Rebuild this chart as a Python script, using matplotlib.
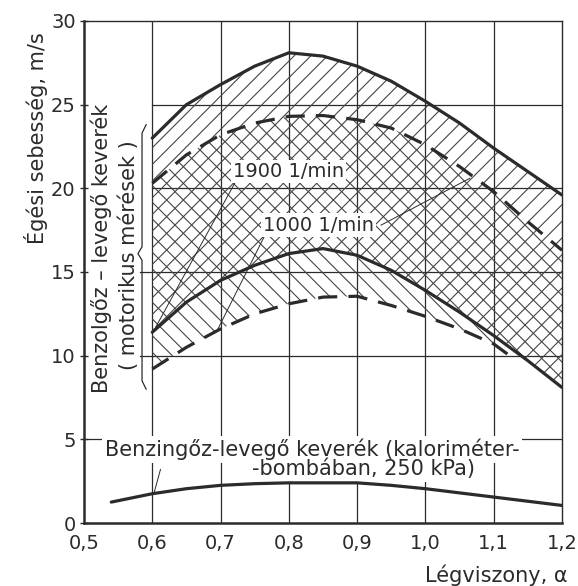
import matplotlib
matplotlib.use("Agg")
import matplotlib.pyplot as plt
import numpy as np

# DATA (x = air ratio alpha, y = burning speed m/s)
alpha = [0.60, 0.65, 0.70, 0.75, 0.80, 0.85, 0.90, 0.95, 1.00, 1.05, 1.10, 1.15, 1.20]
upper_1900 = [23.0, 25.0, 26.2, 27.3, 28.1, 27.9, 27.3, 26.4, 25.2, 23.9, 22.4, 21.0, 19.6]
lower_1900 = [11.4, 13.2, 14.5, 15.4, 16.1, 16.4, 16.0, 15.1, 13.9, 12.6, 11.2, 9.7, 8.1]
upper_1000 = [20.3, 22.0, 23.2, 23.9, 24.3, 24.35, 24.1, 23.6, 22.6, 21.3, 19.8, 18.0, 16.3]
alpha_1000_low = [0.60, 0.65, 0.70, 0.75, 0.80, 0.85, 0.90, 0.95, 1.00, 1.05, 1.10, 1.12]
lower_1000 = [9.2, 10.5, 11.6, 12.5, 13.1, 13.5, 13.55, 13.0, 12.35, 11.6, 10.7, 10.1]

alpha_bomb = [0.54, 0.60, 0.65, 0.70, 0.75, 0.80, 0.85, 0.90, 0.95, 1.00, 1.05, 1.10, 1.15, 1.20]
speed_bomb = [1.25, 1.75, 2.05, 2.25, 2.35, 2.4, 2.4, 2.4, 2.25, 2.05, 1.8, 1.55, 1.3, 1.05]

xticks = [0.5, 0.6, 0.7, 0.8, 0.9, 1.0, 1.1, 1.2]
yticks = [0, 5, 10, 15, 20, 25, 30]

bomb_lines = [(0.531, 4.4, "Benzingőz-levegő keverék (kaloriméter-"),
              (0.746, 3.25, "-bombában, 250 kPa)")]

INK = "#2b2b2b"
plt.rcParams["hatch.linewidth"] = 0.8
plt.rcParams["font.family"] = "DejaVu Sans"

fig = plt.figure(figsize=(5.78, 5.86), dpi=100)
ax = fig.add_axes([0.1453, 0.1075, 0.827, 0.8567])
ax.set_xlim(0.5, 1.2)
ax.set_ylim(0, 30)

# grid, broken where the side label sits
for y in [5, 10, 15, 20, 25]:
    x0 = 0.5 if y == 5 else (0.582 if y < 20 else 0.6)
    ax.plot([x0, 1.2], [y, y], color=INK, lw=0.9, zorder=1)
for x in [0.6, 0.7, 0.8, 0.9, 1.0, 1.1]:
    ax.axvline(x, color=INK, lw=0.9, zorder=1)

# hatched bands
a = np.array(alpha)
ax.fill_between(a, lower_1900, upper_1900, facecolor="none", edgecolor="#444444",
                hatch="//", linewidth=0, zorder=2)
a_low = np.array(alpha_1000_low + [1.15, 1.2])
low_1000 = np.array(lower_1000 + [lower_1900[-2], lower_1900[-1]])
up_1000 = np.interp(a_low, a, upper_1000)
ax.fill_between(a_low, low_1000, up_1000, facecolor="none", edgecolor="#444444",
                hatch="\\\\", linewidth=0, zorder=2)

# curves
ax.plot(alpha, upper_1900, color=INK, lw=2.3, zorder=4, solid_capstyle="round")
ax.plot(alpha, lower_1900, color=INK, lw=2.3, zorder=4, solid_capstyle="round")
ax.plot(alpha, upper_1000, color=INK, lw=2.3, ls=(0, (6, 3.5)), zorder=4)
ax.plot(alpha_1000_low, lower_1000, color=INK, lw=2.3, ls=(0, (6, 3.5)), zorder=4)
ax.plot(alpha_bomb, speed_bomb, color=INK, lw=2.3, zorder=4, solid_capstyle="round")

# labels inside plot
box = dict(facecolor="white", edgecolor="none", pad=1.5)
ax.text(0.718, 21.0, "1900 1/min", fontsize=14, color=INK, va="center", bbox=box, zorder=6)
ax.text(0.762, 17.8, "1000 1/min", fontsize=14, color=INK, va="center", bbox=box, zorder=6)
ax.plot([0.722, 0.605], [20.4, 11.7], color=INK, lw=0.7, zorder=5)
ax.plot([0.765, 0.695], [17.2, 11.5], color=INK, lw=0.7, zorder=5)
ax.plot([0.935, 1.065], [17.8, 20.6], color=INK, lw=0.7, zorder=5)

# bomb-calorimeter caption: white backing under the grid-free area, text on top
for x, y, s in bomb_lines:
    ax.text(x, y, s, fontsize=15, color="white", va="center",
            bbox=dict(facecolor="white", edgecolor="none", pad=2), zorder=3)
    ax.text(x, y, s, fontsize=15, color=INK, va="center", zorder=6)
ax.plot([0.612, 0.603], [3.2, 1.85], color=INK, lw=0.7, zorder=5)

# side label with brace
ax.text(0.526, 16.4, "Benzolgőz – levegő keverék", rotation=90, fontsize=15, color=INK,
        ha="center", va="center", zorder=6)
ax.text(0.565, 16.0, "( motorikus mérések )", rotation=90, fontsize=15, color=INK,
        ha="center", va="center", zorder=6)
brace_x = [0.591, 0.585, 0.585, 0.579, 0.585, 0.585, 0.591]
brace_y = [23.8, 23.3, 16.5, 16.1, 15.7, 8.5, 8.0]
ax.plot(brace_x, brace_y, color=INK, lw=0.9, zorder=5)

# axes styling
ax.set_xticks(xticks)
ax.set_xticklabels([f"{t:.1f}".replace(".", ",") for t in xticks])
ax.set_yticks(yticks)
ax.tick_params(axis="x", length=0, pad=8, labelsize=14, colors=INK)
ax.tick_params(axis="y", length=6, direction="inout", width=1, pad=3, labelsize=14, colors=INK)
for side in ["left", "bottom"]:
    ax.spines[side].set_linewidth(1.8)
for side in ["top", "right"]:
    ax.spines[side].set_linewidth(1.0)
for sp in ax.spines.values():
    sp.set_color(INK)

ax.text(-0.1, 0.767, "Égési sebesség, m/s", rotation=90, transform=ax.transAxes,
        fontsize=15, color=INK, ha="center", va="center")
ax.text(1.0125, -0.104, "Légviszony, α", transform=ax.transAxes,
        fontsize=15, color=INK, ha="right", va="center")

fig.savefig("out.png", dpi=100)
